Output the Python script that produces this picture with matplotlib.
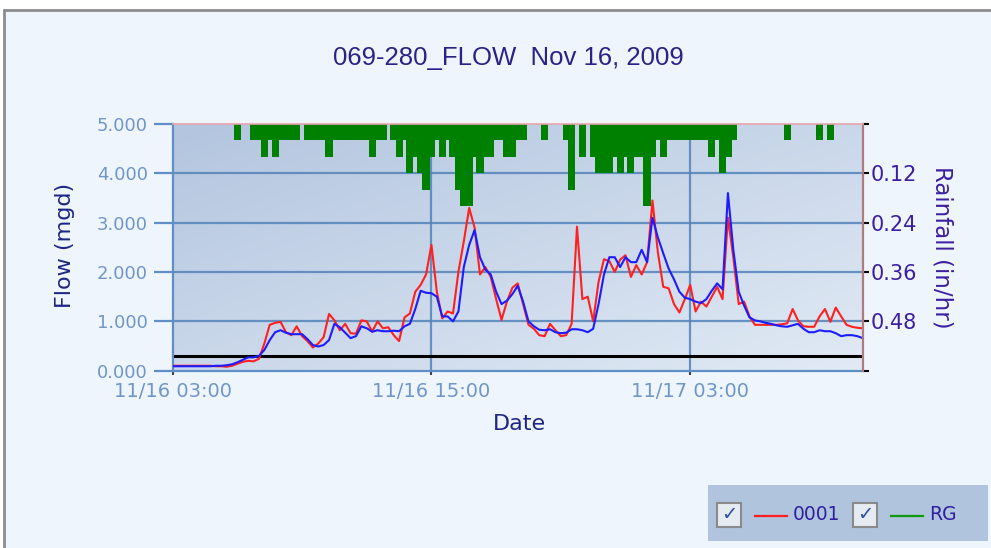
import numpy as np
import pandas as pd
import matplotlib
matplotlib.use("Agg")
import matplotlib.pyplot as plt
import matplotlib.dates as mdates
from matplotlib.patches import Rectangle
from matplotlib.lines import Line2D
from matplotlib.colors import LinearSegmentedColormap

# 15-minute series, 11/16 03:00 onward
start_time = "2009-11-16 03:00"
end_time = "2009-11-17 11:00"

rain_inhr = [
    0, 0, 0, 0, 0, 0, 0, 0,
    0, 0, 0, 0, 0.04, 0, 0, 0.04,
    0.04, 0.08, 0.04, 0.08, 0.04, 0.04, 0.04, 0.04,
    0, 0.04, 0.04, 0.04, 0.04, 0.08, 0.04, 0.04,
    0.04, 0.04, 0.04, 0.04, 0.04, 0.08, 0.04, 0.04,
    0, 0.04, 0.08, 0.04, 0.12, 0.08, 0.12, 0.16,
    0.08, 0.04, 0.08, 0.04, 0.08, 0.16, 0.20, 0.20,
    0.08, 0.12, 0.08, 0.08, 0.04, 0.04, 0.08, 0.08,
    0.04, 0.04, 0, 0, 0, 0.04, 0, 0,
    0, 0.04, 0.16, 0, 0.08, 0, 0.08, 0.12,
    0.12, 0.12, 0.08, 0.12, 0.08, 0.12, 0.08, 0.08,
    0.20, 0.08, 0.04, 0.08, 0.04, 0.04, 0.04, 0.04,
    0.04, 0.04, 0.04, 0.04, 0.08, 0.04, 0.12, 0.08,
    0.04, 0, 0, 0, 0, 0, 0, 0,
    0, 0, 0.04, 0, 0, 0, 0, 0,
    0.04, 0, 0.04, 0, 0, 0, 0, 0,
]

flow_0001 = [
    0.10, 0.10, 0.10, 0.10, 0.10, 0.10, 0.10, 0.10,
    0.09, 0.09, 0.08, 0.10, 0.14, 0.18, 0.20, 0.19,
    0.24, 0.55, 0.93, 0.97, 0.99, 0.78, 0.72, 0.90,
    0.70, 0.60, 0.47, 0.55, 0.68, 1.15, 1.02, 0.82,
    0.95, 0.76, 0.75, 1.02, 1.00, 0.79, 1.00, 0.86,
    0.88, 0.72, 0.60, 1.08, 1.16, 1.60, 1.74, 1.95,
    2.55, 1.60, 1.06, 1.20, 1.16, 2.00, 2.62, 3.30,
    2.90, 1.95, 2.10, 1.90, 1.45, 1.03, 1.40, 1.68,
    1.77, 1.35, 0.93, 0.85, 0.72, 0.70, 0.95, 0.82,
    0.70, 0.72, 0.95, 2.92, 1.45, 1.50, 1.00, 1.80,
    2.26, 2.22, 2.00, 2.25, 2.34, 1.90, 2.14, 1.95,
    2.20, 3.45, 2.40, 1.70, 1.67, 1.35, 1.18, 1.45,
    1.74, 1.20, 1.40, 1.30, 1.50, 1.70, 1.45, 3.10,
    2.30, 1.35, 1.40, 1.10, 0.93, 0.93, 0.93, 0.93,
    0.93, 0.94, 0.96, 1.25, 1.02, 0.90, 0.89, 0.89,
    1.10, 1.25, 0.99, 1.28, 1.10, 0.93, 0.89, 0.87,
    0.86,
]

flow_model = [
    0.09, 0.09, 0.09, 0.09, 0.09, 0.09, 0.09, 0.09,
    0.10, 0.10, 0.11, 0.13, 0.17, 0.22, 0.27, 0.27,
    0.30, 0.42, 0.62, 0.78, 0.82, 0.77, 0.74, 0.74,
    0.74, 0.64, 0.52, 0.49, 0.52, 0.62, 0.95, 0.88,
    0.77, 0.66, 0.70, 0.90, 0.86, 0.79, 0.82, 0.80,
    0.80, 0.81, 0.80, 0.90, 0.95, 1.25, 1.62, 1.58,
    1.57, 1.50, 1.10, 1.10, 1.00, 1.20, 2.10, 2.55,
    2.85, 2.30, 2.05, 1.95, 1.60, 1.35, 1.42, 1.55,
    1.72, 1.40, 1.00, 0.90, 0.83, 0.82, 0.84, 0.78,
    0.76, 0.77, 0.84, 0.84, 0.82, 0.78, 0.85, 1.35,
    1.95, 2.30, 2.30, 2.10, 2.30, 2.20, 2.20, 2.45,
    2.20, 3.10, 2.70, 2.38, 2.07, 1.85, 1.60, 1.48,
    1.45, 1.40, 1.37, 1.45, 1.62, 1.77, 1.65, 3.60,
    2.45, 1.60, 1.32, 1.08, 1.02, 1.00, 0.97, 0.95,
    0.92, 0.90, 0.89, 0.92, 0.95, 0.85, 0.78, 0.78,
    0.82, 0.80, 0.80, 0.76, 0.70, 0.72, 0.72, 0.70,
    0.66,
]

base_flow = 0.30
flow_ticks = [0, 1, 2, 3, 4, 5]
rain_ticks = [0, 0.12, 0.24, 0.36, 0.48, 0.60]
date_ticks = ["2009-11-16 03:00", "2009-11-16 15:00", "2009-11-17 03:00"]

flow_times = pd.date_range(start_time, periods=len(flow_0001), freq="15min")
rain_times = pd.date_range(start_time, periods=len(rain_inhr), freq="15min")

W, H = 991, 548
fig = plt.figure(figsize=(W / 100, H / 100), dpi=100, facecolor="white")

# light panel with a grey frame on top and left
fig.patches.append(Rectangle((4 / W, -0.1), 1.2, 1 - 10 / H + 0.1, transform=fig.transFigure,
                             facecolor="#eef5fd", edgecolor="#8c8c8c", lw=2, zorder=-10))

left, right, top, bottom = 172.7, 862.7, 124.0, 370.7
pos = [left / W, 1 - bottom / H, (right - left) / W, (bottom - top) / H]

# gradient plot background
bg = fig.add_axes(pos, zorder=0)
yy, xx = np.mgrid[0:1:120j, 0:1:200j]
grad_cmap = LinearSegmentedColormap.from_list("plotbg", ["#b3c5df", "#e1eaf5"])
bg.imshow((xx + yy) / 2, cmap=grad_cmap, aspect="auto", extent=(0, 1, 0, 1),
          interpolation="bilinear")
bg.axis("off")

ax = fig.add_axes(pos, zorder=1)
ax.patch.set_visible(False)
ax2 = ax.twinx()
ax2.set_zorder(2)
ax2.patch.set_visible(False)

x0, x1 = pd.Timestamp(start_time), pd.Timestamp(end_time)
ax.set_xlim(x0, x1)
ax.set_ylim(0, 5)

# grid
grid_c = "#5283ba"
for v in flow_ticks[1:-1]:
    ax.axhline(v, color=grid_c, lw=1.6, alpha=0.85, zorder=1)
for d in date_ticks[1:]:
    ax.axvline(pd.Timestamp(d), color=grid_c, lw=1.6, alpha=0.85, zorder=1)

ax.axhline(base_flow, color="black", lw=2.2, zorder=2)
ax.plot(flow_times, flow_0001, color="#ff2020", lw=1.5, zorder=3)
ax.plot(flow_times, flow_model, color="#1c1cff", lw=1.5, zorder=4)

ax.set_yticks(flow_ticks)
ax.yaxis.set_major_formatter(plt.FormatStrFormatter("%.3f"))
ax.set_xticks([pd.Timestamp(d) for d in date_ticks])
ax.xaxis.set_major_formatter(mdates.DateFormatter("%m/%d %H:%M"))
tick_c = "#7096c8"
ax.tick_params(axis="y", direction="out", length=14, width=1.6, color="#5f8fc6",
               labelcolor=tick_c, labelsize=13, pad=4)
ax.tick_params(axis="x", direction="out", length=3, width=1.5, color="#404040",
               labelcolor=tick_c, labelsize=14, pad=5)
for s in ("left", "bottom"):
    ax.spines[s].set_color("#5f8fc6")
    ax.spines[s].set_linewidth(1.6)
for s in ("top", "right"):
    ax.spines[s].set_visible(False)

# rainfall hangs from the top on an inverted axis
ax2.bar(rain_times, rain_inhr, width=20 / 1440, color="#008000", align="center")
ax2.set_ylim(rain_ticks[-1], 0)
ax2.set_xlim(x0, x1)
ax2.set_yticks(rain_ticks)
ax2.set_yticklabels([""] + [f"{v:.2f}" for v in rain_ticks[1:-1]] + [""])
ax2.tick_params(axis="y", direction="out", length=4, width=1.5, color="black",
                labelcolor="#3c1fa0", labelsize=15, pad=1.5)
ax2.spines["right"].set_color("#b07a80")
ax2.spines["right"].set_linewidth(1.6)
ax2.spines["top"].set_color("#e8a4ac")
ax2.spines["top"].set_linewidth(1.2)
ax2.spines["left"].set_visible(False)
ax2.spines["bottom"].set_visible(False)


def fx(px):
    return px / W


def fy(py):
    return 1 - py / H


fig.text(fx(508), fy(65), "069-280_FLOW  Nov 16, 2009", ha="center", va="baseline",
         fontsize=18.5, color="#2b2288", family="Liberation Sans")
fig.text(fx(65), fy(245), "Flow (mgd)", rotation=90, ha="center", va="center",
         fontsize=16, color="#1f2682")
fig.text(fx(519), fy(424), "Date", ha="center", va="center", fontsize=16, color="#1f2682")
fig.text(fx(942), fy(247), "Rainfall (in/hr)", rotation=270, ha="center", va="center",
         fontsize=16.5, color="#3c1fa0")

# legend strip
fig.patches.append(Rectangle((fx(708), fy(541)), 280 / W, 56 / H, transform=fig.transFigure,
                             facecolor="#b0c4de", edgecolor="none"))
legend_items = [("0001", "#ff2020", 717), ("RG", "#119a11", 853)]
for label, col, bx in legend_items:
    fig.patches.append(Rectangle((fx(bx), fy(527)), 24 / W, 24 / H, transform=fig.transFigure,
                                 facecolor="#e6ebf2", edgecolor="#8a8a8a", lw=1.5))
    fig.text(fx(bx + 12), fy(515), "\u2713", ha="center", va="center", fontsize=14,
             color="#2f4f9f", fontweight="bold")
    fig.lines.append(Line2D([fx(bx + 38), fx(bx + 70)], [fy(516), fy(516)],
                            transform=fig.transFigure, color=col, lw=1.6))
    fig.text(fx(bx + 76), fy(515), label, ha="left", va="center", fontsize=13.5,
             color="#3020a0")

fig.savefig("out.png", dpi=100, facecolor=fig.get_facecolor())
